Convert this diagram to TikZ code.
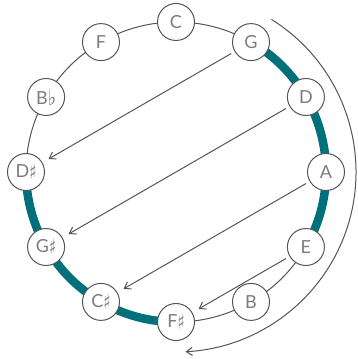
\documentclass[tikz,border=0pt]{standalone}
\usepackage{fontspec}
\setmainfont{Lato}
\newfontfamily\symf{DejaVu Sans}
\usetikzlibrary{arrows.meta}
\definecolor{tealA}{RGB}{0,112,122}
\definecolor{lineg}{RGB}{85,85,85}
\definecolor{textg}{RGB}{125,125,125}
\newcommand{\shp}{\raisebox{-2.5pt}{\scalebox{0.7}[1]{\symf\fontsize{21}{21}\selectfont ♯}}}
\newcommand{\flt}{\raisebox{-0.5pt}{\scalebox{0.8}[1]{\symf\fontsize{22}{22}\selectfont ♭}}}
\begin{document}
\begin{tikzpicture}[x=1pt,y=1pt,
  note/.style={circle, draw=lineg, line width=1pt, fill=white, minimum size=37pt, inner sep=0pt, text=textg, font=\fontsize{18}{18}\selectfont},
  chord/.style={draw=lineg, line width=1pt, -{Straight Barb[length=6pt,width=8pt]}, shorten <=4pt, shorten >=7pt}]
\useasboundingbox (0,0) rectangle (357,359);
\coordinate (O) at (176,187);
\draw[lineg, line width=1pt] (O) circle[radius=150];
\draw[tealA, line width=8.5pt] ([shift={(60:150)}]O) arc[start angle=60, end angle=-30, radius=150];
\draw[tealA, line width=8.5pt] ([shift={(180:150)}]O) arc[start angle=180, end angle=270, radius=150];
\node[note] (C)  at ([shift={(90:150)}]O) {C};
\node[note] (G)  at ([shift={(60:150)}]O) {G};
\node[note] (D)  at ([shift={(30:150)}]O) {D};
\node[note] (A)  at ([shift={(0:150)}]O) {A};
\node[note] (E)  at ([shift={(-30:150)}]O) {E};
\node[note] (B)  at ([shift={(-60:150)}]O) {B};
\node[note] (Fs) at ([shift={(-90:150)}]O) {F\shp};
\node[note] (Cs) at ([shift={(-120:150)}]O) {C\shp};
\node[note] (Gs) at ([shift={(-150:150)}]O) {G\shp};
\node[note] (Ds) at ([shift={(180:150)}]O) {D\shp};
\node[note] (Bb) at ([shift={(150:150)}]O) {B\flt};
\node[note] (F)  at ([shift={(120:150)}]O) {F};
\draw[chord] (G) -- (Ds);
\draw[chord] (D) -- (Gs);
\draw[chord] (A) -- (Cs);
\draw[chord] (E) -- (Fs);
\coordinate (s) at ([shift={(58:180)}]O);
\draw[lineg, line width=1pt, -{Straight Barb[length=6pt,width=8pt]}] (s) arc[start angle=58, end angle=-87, radius=180];
\end{tikzpicture}
\end{document}
